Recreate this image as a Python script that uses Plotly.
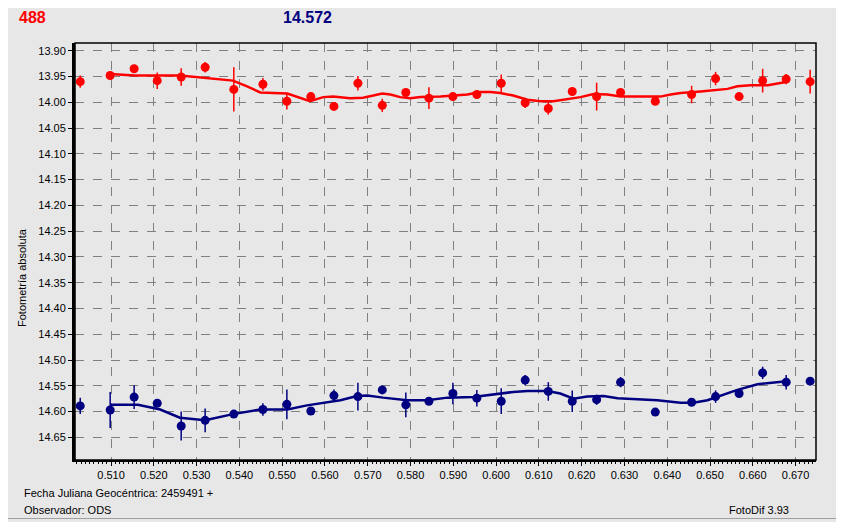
import plotly.graph_objects as go

# =========================
# DATOS
# =========================

fecha = [0.5028, 0.5098, 0.5154, 0.5208, 0.5264, 0.5320, 0.5387, 0.5455, 0.5511, 0.5567,
         0.5621, 0.5677, 0.5734, 0.5789, 0.5843, 0.5899, 0.5955, 0.6012, 0.6068, 0.6122,
         0.6178, 0.6235, 0.6291, 0.6372, 0.6457, 0.6513, 0.6568, 0.6623, 0.6678, 0.6734]

rojo_mag = [13.960, 13.948, 13.935, 13.958, 13.951, 13.932, 13.975, 13.965, 13.998, 13.989,
            14.008, 13.963, 14.006, 13.981, 13.992, 13.989, 13.985, 13.963, 14.001, 14.012,
            13.979, 13.989, 13.981, 13.998, 13.985, 13.954, 13.989, 13.958, 13.955, 13.960]
rojo_err = [0.012, 0.004, 0.004, 0.016, 0.017, 0.010, 0.043, 0.012, 0.016, 0.004,
            0.004, 0.014, 0.013, 0.004, 0.021, 0.004, 0.008, 0.017, 0.010, 0.012,
            0.004, 0.027, 0.004, 0.004, 0.017, 0.013, 0.004, 0.023, 0.010, 0.023]

azul_mag = [14.589, 14.597, 14.572, 14.584, 14.628, 14.617, 14.605, 14.596, 14.586, 14.599,
            14.569, 14.571, 14.558, 14.587, 14.580, 14.565, 14.574, 14.580, 14.539, 14.561,
            14.580, 14.577, 14.543, 14.601, 14.582, 14.571, 14.565, 14.525, 14.543, 14.541]
azul_err = [0.016, 0.035, 0.023, 0.004, 0.028, 0.023, 0.004, 0.012, 0.029, 0.004,
            0.012, 0.027, 0.004, 0.024, 0.004, 0.021, 0.016, 0.025, 0.010, 0.018,
            0.021, 0.010, 0.010, 0.004, 0.004, 0.012, 0.004, 0.012, 0.014, 0.004]

# curvas suavizadas
rojo_curva_x = [0.5098, 0.5156, 0.5261, 0.5301, 0.5325, 0.5355, 0.5385, 0.5418, 0.5449, 0.5512,
                0.5542, 0.5565, 0.5596, 0.5619, 0.5659, 0.5689, 0.5713, 0.5734, 0.5753, 0.5776,
                0.5799, 0.5823, 0.5870, 0.5933, 0.5963, 0.5987, 0.6010, 0.6040, 0.6073, 0.6104,
                0.6134, 0.6167, 0.6197, 0.6228, 0.6260, 0.6291, 0.6384, 0.6408, 0.6431, 0.6478,
                0.6508, 0.6541, 0.6564, 0.6595, 0.6635, 0.6658, 0.6681]
rojo_curva_y = [13.945, 13.948, 13.948, 13.951, 13.954, 13.956, 13.958, 13.969, 13.981, 13.983,
                13.992, 13.998, 13.990, 13.989, 13.992, 13.991, 13.987, 13.983, 13.985, 13.990,
                13.992, 13.990, 13.989, 13.985, 13.980, 13.980, 13.982, 13.987, 13.995, 13.998,
                13.998, 13.994, 13.990, 13.984, 13.985, 13.989, 13.989, 13.985, 13.982, 13.979,
                13.977, 13.974, 13.969, 13.967, 13.967, 13.964, 13.960]

azul_curva_x = [0.5098, 0.5163, 0.5215, 0.5261, 0.5320, 0.5385, 0.5449, 0.5512, 0.5558, 0.5605,
                0.5636, 0.5675, 0.5699, 0.5736, 0.5760, 0.5792, 0.5839, 0.5886, 0.5947, 0.5994,
                0.6040, 0.6073, 0.6120, 0.6150, 0.6181, 0.6213, 0.6251, 0.6284, 0.6337, 0.6377,
                0.6431, 0.6461, 0.6494, 0.6524, 0.6564, 0.6611, 0.6649, 0.6679]
azul_curva_y = [14.587, 14.587, 14.596, 14.612, 14.617, 14.605, 14.596, 14.596, 14.588, 14.582,
                14.578, 14.570, 14.569, 14.573, 14.575, 14.578, 14.578, 14.573, 14.572, 14.567,
                14.562, 14.560, 14.560, 14.565, 14.575, 14.571, 14.570, 14.574, 14.576, 14.578,
                14.583, 14.583, 14.578, 14.570, 14.558, 14.547, 14.543, 14.541]

y_ticks = [13.90 + 0.05 * i for i in range(16)]

ROJO = "#ff0000"
AZUL = "#000080"
FUENTE = "Liberation Sans"
FONDO = "#e7e7e8"

fig = go.Figure()

# =========================
# SERIES
# =========================

for cx, cy, mag, err, color in [
    (rojo_curva_x, rojo_curva_y, rojo_mag, rojo_err, ROJO),
    (azul_curva_x, azul_curva_y, azul_mag, azul_err, AZUL),
]:
    fig.add_trace(go.Scatter(
        x=cx, y=cy, mode="lines",
        line=dict(color=color, width=2.5),
        hoverinfo="skip"
    ))
    fig.add_trace(go.Scatter(
        x=fecha, y=mag, mode="markers",
        marker=dict(color=color, size=9, line=dict(width=0)),
        error_y=dict(type="data", array=err, color=color, thickness=1.5, width=0)
    ))

# =========================
# EJES
# =========================

fig.update_xaxes(
    range=[0.50158, 0.67477],
    tick0=0.51, dtick=0.01, tickformat=".3f",
    showgrid=True, gridcolor="#808080", griddash="dash", gridwidth=1,
    showline=True, linecolor="black", linewidth=2,
    ticks="outside", ticklen=4, tickcolor="black",
    minor=dict(dtick=0.001, ticks="outside", ticklen=2, tickcolor="black", showgrid=False),
    tickfont=dict(family=FUENTE, size=11, color="black"),
    zeroline=False
)

fig.update_yaxes(
    range=[14.694, 13.885],
    tickvals=y_ticks, tickformat=".2f",
    showgrid=True, gridcolor="#808080", griddash="dash", gridwidth=1,
    showline=True, linecolor="black", linewidth=3,
    ticks="outside", ticklen=4, tickcolor="black",
    tickfont=dict(family=FUENTE, size=11, color="black"),
    zeroline=False
)

# =========================
# TEXTOS
# =========================

# la página tiene 8 px de margen: todo se mide en píxeles de la referencia
def px_x(p):
    return (p - 75) / 741


def px_y(p):
    return (460 - p) / 417


textos = [
    ("488", 17, 18, "left", 16, ROJO, True),
    ("14.572", 281, 18, "left", 16, AZUL, True),
    ("Fecha Juliana Geocéntrica: 2459491 +", 22, 493, "left", 11, "black", False),
    ("Observador: ODS", 22, 510, "left", 11, "black", False),
    ("FotoDif 3.93", 791, 510, "right", 11, "black", False),
]

for texto, x, y, anchor, size, color, negrita in textos:
    fig.add_annotation(
        x=px_x(x), y=px_y(y), xref="paper", yref="paper",
        text="<b>%s</b>" % texto if negrita else texto,
        showarrow=False, xanchor=anchor, yanchor="middle",
        font=dict(family=FUENTE, size=size, color=color)
    )

fig.add_annotation(
    x=px_x(22), y=px_y(278), xref="paper", yref="paper",
    text="Fotometría absoluta", textangle=-90, showarrow=False,
    xanchor="center", yanchor="middle",
    font=dict(family=FUENTE, size=11, color="black")
)

# marco del área y borde de la ventana
fig.add_shape(type="rect", xref="paper", yref="paper", x0=0, y0=0, x1=1, y1=1,
              line=dict(color="black", width=1.5), layer="above")
fig.add_shape(type="line", xref="paper", yref="paper",
              x0=px_x(841.5), y0=px_y(0), x1=px_x(841.5), y1=px_y(518.5),
              line=dict(color="#a0a0a0", width=1))
fig.add_shape(type="line", xref="paper", yref="paper",
              x0=px_x(0), y0=px_y(518.5), x1=px_x(841.5), y1=px_y(518.5),
              line=dict(color="#a0a0a0", width=1))

fig.update_layout(
    width=836, height=514,
    margin=dict(l=67, r=28, t=35, b=62),
    paper_bgcolor=FONDO,
    plot_bgcolor=FONDO,
    showlegend=False
)

fig.write_html("out.html")
